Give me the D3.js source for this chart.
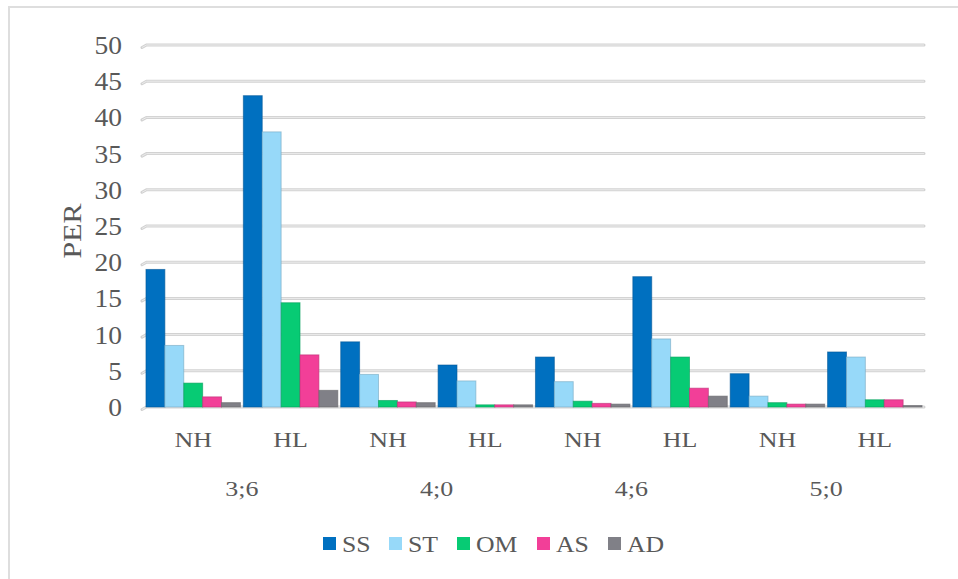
<!DOCTYPE html>
<html>
<head>
<meta charset="utf-8">
<script src="https://cdn.jsdelivr.net/npm/d3@7"></script>
<style>
  body { margin: 0; background: #fff; }
  text { font-family: "Liberation Serif", "Times New Roman", serif; fill: #595959; }
</style>
</head>
<body>
<div id="chart"></div>
<script>
// chart data
var ages = ["3;6", "4;0", "4;6", "5;0"];
var hearing = ["NH", "HL"];
var series = ["SS", "ST", "OM", "AS", "AD"];
var colors = ["#0070c0", "#97d9f9", "#07cb74", "#f23f98", "#808087"];
var yTicks = [0, 5, 10, 15, 20, 25, 30, 35, 40, 45, 50];

// one value list per series, in group order NH 3;6, HL 3;6, NH 4;0, ...
var SS = [19, 43, 9, 5.8, 6.9, 18, 4.6, 7.6];
var ST = [8.5, 38, 4.5, 3.6, 3.5, 9.4, 1.5, 6.9];
var OM = [3.3, 14.4, 0.9, 0.3, 0.8, 6.9, 0.6, 1.0];
var AS = [1.4, 7.2, 0.7, 0.3, 0.5, 2.6, 0.4, 1.0];
var AD = [0.6, 2.3, 0.6, 0.3, 0.4, 1.5, 0.4, 0.2];
var values = [SS, ST, OM, AS, AD];

var svgWidth = 958, svgHeight = 579;

var svg = d3.select("#chart").append("svg")
  .attr("width", svgWidth)
  .attr("height", svgHeight)
  .style("font-family", "'Liberation Serif', serif");

// chart frame
svg.append("rect")
  .attr("x", 9).attr("y", 7)
  .attr("width", 1000).attr("height", 700)
  .attr("fill", "none")
  .attr("stroke", "#dedede")
  .attr("stroke-width", 2);

// groups: one per age x hearing
var groups = [];
ages.forEach(function (a) {
  hearing.forEach(function (h) { groups.push(a + "|" + h); });
});

var x = d3.scaleBand().domain(groups).range([145, 923]).paddingInner(0.03).paddingOuter(0.01);
var xSub = d3.scaleBand().domain(series).range([0, x.bandwidth()]);
var y = d3.scaleLinear().domain([0, 50]).range([407, 45]);

// gridlines with the little 3d stub at the left
var grid = svg.append("g");
yTicks.forEach(function (t) {
  var yy = y(t);
  var d = "M142," + (yy + 2.5) + " L146.5," + yy + " L924," + yy;
  grid.append("path").attr("d", d).attr("fill", "none")
    .attr("stroke", "#d2d2d2").attr("stroke-width", 3).attr("stroke-linecap", "round");
  grid.append("path").attr("d", d).attr("fill", "none")
    .attr("stroke", "#ececec").attr("stroke-width", 1);
});

// y tick labels
svg.append("g").selectAll("text")
  .data(yTicks)
  .enter()
  .append("text")
  .attr("transform", function (d) { return "translate(122," + (y(d) + 9) + ") scale(1.1,1)"; })
  .attr("text-anchor", "end")
  .style("font-size", "25px")
  .text(function (d) { return d; });

// y axis title
svg.append("text")
  .attr("transform", "translate(81,231) rotate(-90)")
  .attr("text-anchor", "middle")
  .style("font-size", "25px")
  .attr("textLength", 55)
  .attr("lengthAdjust", "spacingAndGlyphs")
  .text("PER");

// bars
var barData = [];
groups.forEach(function (g, gi) {
  series.forEach(function (s, si) {
    barData.push({ group: g, key: s, value: values[si][gi], color: colors[si] });
  });
});

svg.append("g").selectAll("rect")
  .data(barData)
  .enter()
  .append("rect")
  .attr("x", function (d) { return x(d.group) + xSub(d.key); })
  .attr("y", function (d) { return y(d.value); })
  .attr("width", xSub.bandwidth())
  .attr("height", function (d) { return y(0) - y(d.value); })
  .attr("fill", function (d) { return d.color; })
  .attr("stroke", function (d) { return d3.color(d.color).darker(0.7); })
  .attr("stroke-opacity", 0.6)
  .attr("stroke-width", 1);

// hearing labels
svg.append("g").selectAll("text")
  .data(groups)
  .enter()
  .append("text")
  .attr("transform", function (d) { return "translate(" + (x(d) + x.bandwidth() / 2) + ",447) scale(1.18,1)"; })
  .attr("text-anchor", "middle")
  .style("font-size", "22px")
  .text(function (d) { return d.split("|")[1]; });

// age labels
svg.append("g").selectAll("text")
  .data(ages)
  .enter()
  .append("text")
  .attr("transform", function (d) {
    var cx = (x(d + "|NH") + x(d + "|HL") + x.bandwidth()) / 2;
    return "translate(" + cx + ",496) scale(1.18,1)";
  })
  .attr("text-anchor", "middle")
  .style("font-size", "22px")
  .text(function (d) { return d; });

// legend
var legendX = [323, 389, 457, 537, 608];
var legend = svg.append("g").selectAll("g")
  .data(series)
  .enter()
  .append("g")
  .attr("transform", function (d, i) { return "translate(" + legendX[i] + ",537)"; });

legend.append("rect")
  .attr("width", 13).attr("height", 13)
  .attr("fill", function (d, i) { return colors[i]; });

legend.append("text")
  .attr("transform", "translate(19,15) scale(1.12,1)")
  .style("font-size", "23px")
  .text(function (d) { return d; });
</script>
</body>
</html>
